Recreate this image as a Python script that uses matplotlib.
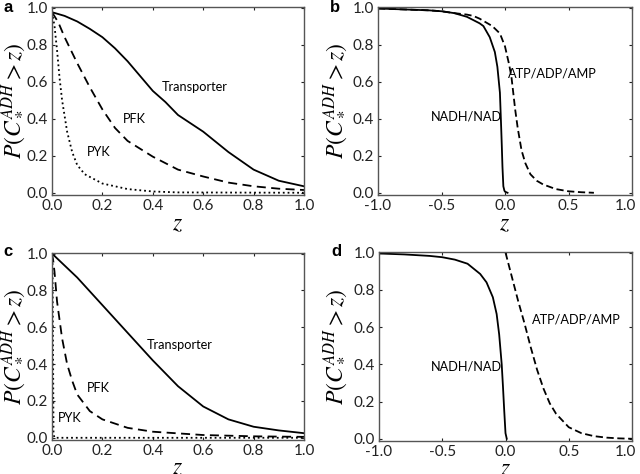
import matplotlib
matplotlib.use("Agg")
import matplotlib.pyplot as plt
import matplotlib.transforms as mtrans

plt.rcParams['font.family'] = ['Lato', 'DejaVu Sans']
plt.rcParams['mathtext.fontset'] = 'stix'

# Panel a
a_trans_z = [0.0, 0.05, 0.1, 0.15, 0.2, 0.25, 0.3, 0.35, 0.4, 0.45, 0.5, 0.6, 0.7, 0.8, 0.9, 0.95, 1.0]
a_trans_p = [0.975, 0.955, 0.925, 0.885, 0.84, 0.78, 0.71, 0.63, 0.55, 0.49, 0.42, 0.33, 0.22, 0.125, 0.065, 0.05, 0.035]
a_pfk_z = [0.0, 0.025, 0.05, 0.1, 0.15, 0.2, 0.25, 0.3, 0.4, 0.5, 0.6, 0.7, 0.8, 0.9, 1.0]
a_pfk_p = [0.975, 0.92, 0.84, 0.70, 0.57, 0.45, 0.35, 0.28, 0.195, 0.125, 0.088, 0.055, 0.035, 0.022, 0.015]
a_pyk_z = [0.0, 0.01, 0.02, 0.03, 0.04, 0.06, 0.08, 0.1, 0.13, 0.2, 0.3, 0.4, 0.5, 1.0]
a_pyk_p = [0.975, 0.90, 0.77, 0.62, 0.50, 0.33, 0.22, 0.15, 0.10, 0.05, 0.02, 0.007, 0.002, 0.0]

# Panel b
b_nadh_z = [-1.0, -0.8, -0.6, -0.5, -0.4, -0.3, -0.2, -0.17, -0.12, -0.08, -0.06, -0.04, -0.03, -0.025, -0.02, -0.013, -0.005, 0.0, 0.02]
b_nadh_p = [0.995, 0.99, 0.985, 0.98, 0.97, 0.95, 0.915, 0.90, 0.84, 0.76, 0.68, 0.54, 0.35, 0.25, 0.14, 0.035, 0.012, 0.006, 0.0]
b_atp_z = [-1.0, -0.8, -0.6, -0.5, -0.4, -0.3, -0.25, -0.2, -0.1, -0.04, 0.0, 0.03, 0.05, 0.08, 0.1, 0.13, 0.16, 0.2, 0.25, 0.3, 0.4, 0.5, 0.6, 0.7]
b_atp_p = [0.995, 0.99, 0.985, 0.98, 0.97, 0.962, 0.955, 0.94, 0.90, 0.86, 0.79, 0.70, 0.63, 0.45, 0.35, 0.23, 0.16, 0.10, 0.065, 0.045, 0.02, 0.008, 0.003, 0.0]

# Panel c
c_trans_z = [0.0, 0.1, 0.2, 0.3, 0.4, 0.5, 0.6, 0.7, 0.8, 0.9, 1.0]
c_trans_p = [1.0, 0.87, 0.72, 0.57, 0.42, 0.28, 0.17, 0.10, 0.06, 0.04, 0.025]
c_pfk_z = [0.0, 0.005, 0.01, 0.02, 0.04, 0.06, 0.08, 0.1, 0.15, 0.2, 0.3, 0.4, 0.6, 0.8, 1.0]
c_pfk_p = [1.0, 0.96, 0.90, 0.74, 0.54, 0.40, 0.31, 0.235, 0.145, 0.10, 0.054, 0.033, 0.015, 0.008, 0.005]
c_pyk_z = [0.0, 0.002, 0.004, 0.006, 0.01, 1.0]
c_pyk_p = [1.0, 0.95, 0.5, 0.02, 0.0, 0.0]

# Panel d
d_nadh_z = [-1.0, -0.8, -0.6, -0.5, -0.4, -0.3, -0.2, -0.15, -0.1, -0.07, -0.05, -0.03, -0.02, -0.01, 0.0, 0.01]
d_nadh_p = [0.995, 0.99, 0.982, 0.975, 0.962, 0.94, 0.885, 0.84, 0.76, 0.67, 0.56, 0.40, 0.28, 0.15, 0.03, 0.0]
d_atp_z = [0.0, 0.05, 0.1, 0.15, 0.2, 0.25, 0.3, 0.35, 0.4, 0.5, 0.6, 0.7, 0.8, 0.9, 1.0]
d_atp_p = [1.0, 0.87, 0.74, 0.62, 0.49, 0.37, 0.27, 0.19, 0.134, 0.062, 0.03, 0.014, 0.006, 0.002, 0.0]

xticks_pos = [0.0, 0.2, 0.4, 0.6, 0.8, 1.0]
xticks_sym = [-1.0, -0.5, 0.0, 0.5, 1.0]
yticks = [0.0, 0.2, 0.4, 0.6, 0.8, 1.0]

fig = plt.figure(figsize=(6.4, 4.74), dpi=100)
W, H = 640, 474

def mk_ax(l, t, r, b):
    return fig.add_axes([l / W, 1 - b / H, (r - l) / W, (b - t) / H])

ax_a = mk_ax(52, 7, 304, 195)
ax_b = mk_ax(378, 7, 632, 195)
ax_c = mk_ax(52, 253, 304, 440)
ax_d = mk_ax(379, 252, 632, 441)

ylab = r'$P(C_*^{ADH}>z)$'
lw = 1.3
col = 'black'
fs_txt = 9.2

def style(ax, xt, xlim, shift_last=False, bottom=False):
    ax.set_xlim(*xlim)
    ax.set_ylim(-0.012, 1.003)
    ax.set_xticks(xt)
    ax.set_xticklabels(['%.1f' % v for v in xt])
    ax.set_yticks(yticks)
    ax.set_yticklabels(['%.1f' % v for v in yticks])
    ax.tick_params(direction='in', length=2.5, width=0.8, top=True, right=True,
                   labelsize=11, colors='#222222', pad=3)
    for s in ax.spines.values():
        s.set_color('#555555')
        s.set_linewidth(1.0)
    ax.set_ylabel(ylab, fontsize=17)
    pos = ax.get_position()
    left_px = pos.x0 * W
    panel_left = 0 if left_px < 320 else 322
    ax.yaxis.set_label_coords((panel_left + 26 - left_px) / (pos.width * W), 0.5)
    ax.set_xlabel(r'$z$', fontsize=17, labelpad=-1 if bottom else 0)
    if shift_last:
        lab = ax.get_xticklabels()[-1]
        lab.set_transform(lab.get_transform() + mtrans.ScaledTranslation(-7 / 100, 0, fig.dpi_scale_trans))

# a
ax_a.plot(a_trans_z, a_trans_p, '-', color=col, lw=lw)
ax_a.plot(a_pfk_z, a_pfk_p, '--', color=col, lw=lw, dashes=(5, 3))
ax_a.plot(a_pyk_z, a_pyk_p, ':', color=col, lw=lw)
style(ax_a, xticks_pos, (0, 1))
ax_a.text(0.435, 0.57, 'Transporter', fontsize=fs_txt, va='center')
ax_a.text(0.283, 0.40, 'PFK', fontsize=fs_txt, va='center')
ax_a.text(0.14, 0.22, 'PYK', fontsize=fs_txt, va='center')

# b
ax_b.plot(b_nadh_z, b_nadh_p, '-', color=col, lw=lw)
ax_b.plot(b_atp_z, b_atp_p, '--', color=col, lw=lw, dashes=(4, 2))
style(ax_b, xticks_sym, (-1, 1), shift_last=True)
ax_b.text(0.026, 0.645, 'ATP/ADP/AMP', fontsize=fs_txt, va='center')
ax_b.text(-0.584, 0.41, 'NADH/NAD', fontsize=fs_txt, va='center')

# c
ax_c.plot(c_trans_z, c_trans_p, '-', color=col, lw=lw)
ax_c.plot(c_pfk_z, c_pfk_p, '--', color=col, lw=lw, dashes=(5, 3))
ax_c.plot(c_pyk_z, c_pyk_p, ':', color=col, lw=lw)
style(ax_c, xticks_pos, (0, 1), bottom=True)
ax_c.text(0.376, 0.506, 'Transporter', fontsize=fs_txt, va='center')
ax_c.text(0.14, 0.27, 'PFK', fontsize=fs_txt, va='center')
ax_c.text(0.025, 0.11, 'PYK', fontsize=fs_txt, va='center')

# d
ax_d.plot(d_nadh_z, d_nadh_p, '-', color=col, lw=lw)
ax_d.plot(d_atp_z, d_atp_p, '--', color=col, lw=lw, dashes=(4, 2))
style(ax_d, xticks_sym, (-1, 1), shift_last=True, bottom=True)
ax_d.text(0.213, 0.643, 'ATP/ADP/AMP', fontsize=fs_txt, va='center')
ax_d.text(-0.59, 0.39, 'NADH/NAD', fontsize=fs_txt, va='center')

for lbl, x, y in [('a', 3, 8), ('b', 330, 8), ('c', 3, 252), ('d', 331, 252)]:
    fig.text(x / W, 1 - y / H, lbl, fontsize=12, fontweight='bold', va='center', ha='left',
             family=['Liberation Sans', 'DejaVu Sans'])

fig.savefig('out.png', dpi=100)
